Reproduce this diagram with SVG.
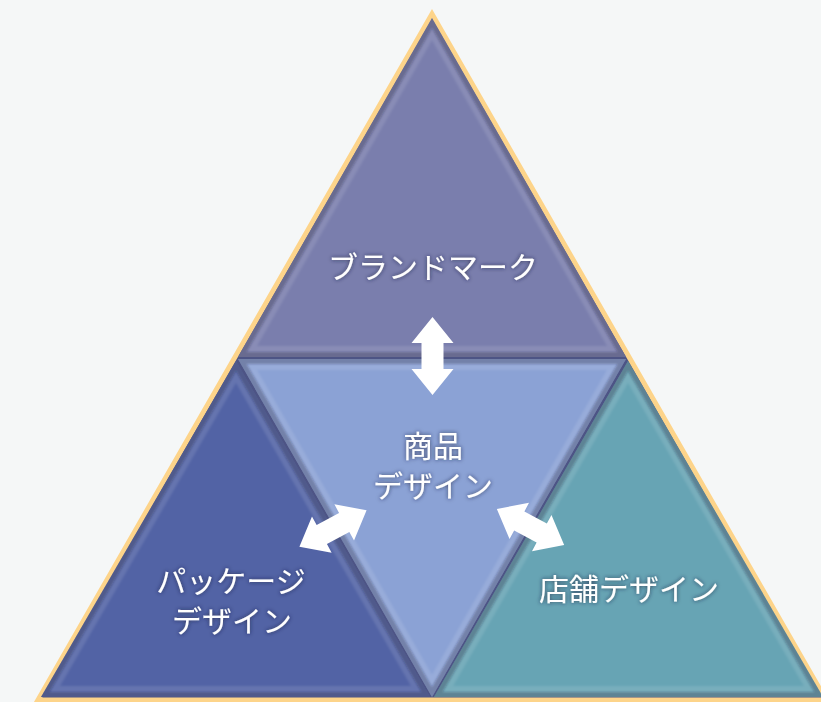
<svg xmlns="http://www.w3.org/2000/svg" width="821" height="702" viewBox="0 0 821 702">
  <defs>
    <style>
      .lbl { font-family: "Noto Sans CJK JP", "Noto Sans", sans-serif; font-size: 30px; fill: #ffffff; text-anchor: middle; filter: url(#glow); }
      .rimDark { fill: none; stroke: #1a1f3a; stroke-opacity: 0.3; stroke-width: 10; filter: url(#soft); }
      .rimLight { fill: none; stroke: #ffffff; stroke-opacity: 0.11; stroke-width: 22; filter: url(#soft); }
      .arrow { fill: #ffffff; }
    </style>
    <filter id="glow" x="-20%" y="-40%" width="140%" height="180%">
      <feGaussianBlur in="SourceAlpha" stdDeviation="2.2" result="b"/>
      <feFlood flood-color="#1c1f3c" flood-opacity="0.75"/>
      <feComposite in2="b" operator="in" result="s"/>
      <feMerge><feMergeNode in="s"/><feMergeNode in="SourceGraphic"/></feMerge>
    </filter>
    <filter id="soft" x="-5%" y="-5%" width="110%" height="110%">
      <feGaussianBlur stdDeviation="1.2"/>
    </filter>
    <polygon id="pTop" points="432,18 238,357 626,357"/>
    <polygon id="pCenter" points="238,359 626,359 432,697"/>
    <polygon id="pLeft" points="236,361 41,697 430,697"/>
    <polygon id="pRight" points="628,361 434,697 823,697"/>
    <clipPath id="cTop"><use href="#pTop"/></clipPath>
    <clipPath id="cCenter"><use href="#pCenter"/></clipPath>
    <clipPath id="cLeft"><use href="#pLeft"/></clipPath>
    <clipPath id="cRight"><use href="#pRight"/></clipPath>
    <path id="dblArrow" d="M-39,0 L-13,-21 L-13,-11 L13,-11 L13,-21 L39,0 L13,21 L13,11 L-13,11 L-13,21 Z"/>
  </defs>

  <rect width="821" height="702" fill="#f5f7f7"/>

  <polygon id="outline" points="432,14 38,700 826,700" fill="#4d5485" stroke="#fdd48a" stroke-width="5" stroke-linejoin="miter"/>

  <g id="node-top">
    <use href="#pTop" fill="#7a7ead"/>
    <g clip-path="url(#cTop)">
      <use href="#pTop" class="rimLight"/>
      <use href="#pTop" class="rimDark"/>
    </g>
    <text class="lbl" x="433" y="278">ブランドマーク</text>
  </g>

  <g id="node-left">
    <use href="#pLeft" fill="#5263a5"/>
    <g clip-path="url(#cLeft)">
      <use href="#pLeft" class="rimLight"/>
      <use href="#pLeft" class="rimDark"/>
    </g>
    <text class="lbl"><tspan x="231" y="592">パッケージ</tspan><tspan x="232" y="632">デザイン</tspan></text>
  </g>

  <g id="node-right">
    <use href="#pRight" fill="#67a4b4"/>
    <g clip-path="url(#cRight)">
      <use href="#pRight" class="rimLight"/>
      <use href="#pRight" class="rimDark"/>
    </g>
    <text class="lbl" x="629" y="600">店舗デザイン</text>
  </g>

  <g id="node-center">
    <use href="#pCenter" fill="#8ba2d5"/>
    <g clip-path="url(#cCenter)">
      <use href="#pCenter" class="rimLight"/>
      <use href="#pCenter" class="rimDark"/>
    </g>
    <text class="lbl"><tspan x="433" y="457">商品</tspan><tspan x="433" y="497">デザイン</tspan></text>
  </g>

  <g id="connectors">
    <use href="#dblArrow" class="arrow" transform="translate(432.5,356) rotate(90)"/>
    <use href="#dblArrow" class="arrow" transform="translate(333,528.5) rotate(-28.5) scale(0.98)"/>
    <use href="#dblArrow" class="arrow" transform="translate(530.5,527) rotate(28.3) scale(0.98)"/>
  </g>
</svg>
